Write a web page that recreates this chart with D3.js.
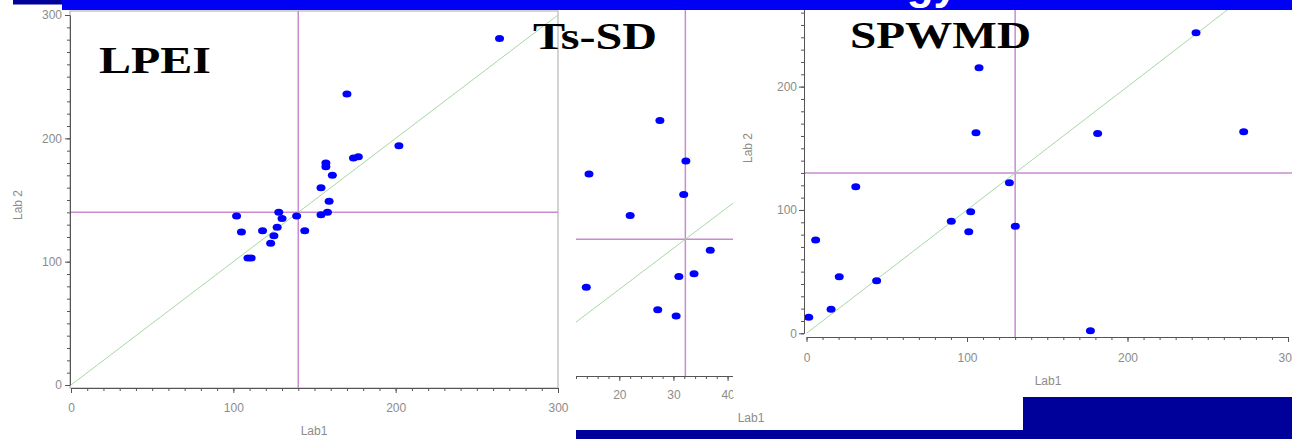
<!DOCTYPE html>
<html lang="en">
<head>
<meta charset="UTF-8">
<title>Lab1 vs Lab 2 scatterplots</title>
<script src="https://d3js.org/d3.v7.min.js"></script>
<style>
  body { margin: 0; background: #fff; }
  svg { display: block; }
  .axis .tick text { font-family: "Liberation Sans", Arial, sans-serif; font-size: 12px; fill: #8c8c8c; }
  .axis path, .axis line { stroke: #555; }
  .lab { font-family: "Liberation Sans", Arial, sans-serif; font-size: 12px; fill: #8c8c8c; }
  .ttl { font-family: "Liberation Serif", "Times New Roman", serif; font-weight: bold; font-size: 37px; fill: #000; }
</style>
</head>
<body>
<svg id="chart" width="1292" height="439"></svg>
<script>
// LPEI: Lab1 vs Lab 2
const lpeiLab1 = [264, 170, 202, 174, 177, 157, 157, 161, 154, 159, 154, 158, 139, 128, 130, 127, 125, 123, 118, 102, 105, 144, 109, 111];
const lpeiLab2 = [281, 236, 194, 184, 185, 180, 177, 170, 160, 149, 138, 140, 137, 140, 135, 128, 121, 115, 125, 137, 124, 125, 103, 103];
const lpeiMean = [140, 140];

// Ts-SD
const tsLab1 = [27.5, 32.3, 14.4, 31.9, 22.0, 36.8, 33.8, 31.0, 13.9, 27.1, 30.5];
const tsLab2 = [61.2, 51.3, 48.1, 43.1, 38.0, 29.5, 23.8, 23.1, 20.5, 15.0, 13.5];
const tsMean = [32.2, 32.2];

// SPWMD
const spLab1 = [30.7, 5.7, 20.4, 15.3, 1.4, 43.7, 90.2, 102.3, 101.1, 126.4, 130.1, 107.5, 105.6, 181.4, 272.4, 242.7, 176.9];
const spLab2 = [118.9, 75.7, 45.9, 19.5, 13.0, 42.7, 90.8, 98.6, 82.4, 122.1, 86.8, 215.4, 162.7, 161.9, 163.5, 243.6, 2.1];
const spMean = [130, 130];

const svg = d3.select("#chart");
svg.append("rect").attr("width", 1292).attr("height", 439).attr("fill", "#fff");

function drawPanel(p) {
  const g = svg.append("g");
  const x = d3.scaleLinear().domain(p.xDomain).range(p.xRange);
  const y = d3.scaleLinear().domain(p.yDomain).range(p.yRange);
  const [cx0, cy0, cx1, cy1] = p.clip;

  if (p.sheet) {
    // white sheet of the pasted plot, hides what lies under it
    g.append("rect")
      .attr("x", p.sheet[0]).attr("y", p.sheet[1])
      .attr("width", p.sheet[2] - p.sheet[0]).attr("height", p.sheet[3] - p.sheet[1])
      .attr("fill", "#fff");
  }

  const clipId = "clip-" + p.id;
  svg.append("clipPath").attr("id", clipId)
    .append("rect").attr("x", cx0).attr("y", cy0).attr("width", cx1 - cx0).attr("height", cy1 - cy0);

  if (p.frame) {
    g.append("rect")
      .attr("x", cx0).attr("y", cy0).attr("width", cx1 - cx0).attr("height", cy1 - cy0)
      .attr("fill", "none").attr("stroke", "#a8a8a8");
  }

  const inner = g.append("g").attr("clip-path", `url(#${clipId})`);

  // reference lines at the means
  inner.append("line")
    .attr("x1", cx0).attr("x2", cx1)
    .attr("y1", y(p.mean[1])).attr("y2", y(p.mean[1]))
    .attr("stroke", "#c98bd0").attr("stroke-width", 1.5);
  inner.append("line")
    .attr("x1", x(p.mean[0])).attr("x2", x(p.mean[0]))
    .attr("y1", cy0).attr("y2", cy1)
    .attr("stroke", "#c98bd0").attr("stroke-width", 1.5);

  // line of equality
  inner.append("line")
    .attr("x1", x(p.xDomain[0])).attr("y1", y(p.xDomain[0]))
    .attr("x2", x(p.xDomain[1])).attr("y2", y(p.xDomain[1]))
    .attr("stroke", "#a6d8a6").attr("stroke-width", 1);

  const pts = p.lab1.map((v, i) => ({ a: v, b: p.lab2[i] }));
  inner.selectAll("ellipse").data(pts).enter()
    .append("ellipse")
    .attr("cx", d => x(d.a))
    .attr("cy", d => y(d.b))
    .attr("rx", 4.5).attr("ry", 3.5)
    .attr("fill", "#0000ff");

  // x axis: minor then major ticks
  g.append("g").attr("class", "axis")
    .attr("transform", `translate(0,${p.xAxisY})`)
    .call(d3.axisBottom(x).tickValues(p.xMinor).tickSize(3).tickSizeOuter(0).tickFormat(""));
  g.append("g").attr("class", "axis")
    .attr("transform", `translate(0,${p.xAxisY})`)
    .call(d3.axisBottom(x).tickValues(p.xMajor).tickSize(5).tickSizeOuter(0).tickPadding(p.xPad))
    .call(a => a.select(".domain").remove());

  if (p.yAxisX !== null) {
    g.append("g").attr("class", "axis")
      .attr("transform", `translate(${p.yAxisX},0)`)
      .call(d3.axisLeft(y).tickValues(p.yMinor).tickSize(3).tickSizeOuter(0).tickFormat(""));
    g.append("g").attr("class", "axis")
      .attr("transform", `translate(${p.yAxisX},0)`)
      .call(d3.axisLeft(y).tickValues(p.yMajor).tickSize(5).tickSizeOuter(0).tickPadding(p.yPad))
      .call(a => a.select(".domain").remove());
  }

  if (p.xLabel) {
    g.append("text").attr("class", "lab")
      .attr("x", p.xLabel[0]).attr("y", p.xLabel[1])
      .attr("text-anchor", "middle").text("Lab1");
  }
  if (p.yLabel) {
    g.append("text").attr("class", "lab")
      .attr("transform", `translate(${p.yLabel[0]},${p.yLabel[1]}) rotate(-90)`)
      .attr("text-anchor", "middle").text("Lab 2");
  }
}

// Ts-SD sits behind the other two
drawPanel({
  id: "ts", lab1: tsLab1, lab2: tsLab2, mean: tsMean,
  xDomain: [12, 41], xRange: [576, 733], yDomain: [0, 90], yRange: [371.3, 2.3],
  clip: [576, 10, 733, 376], frame: false, sheet: null,
  xAxisY: 376, xMajor: [20, 30, 40], xMinor: d3.range(12, 42, 2), xPad: 9,
  yAxisX: null,
  xLabel: [751, 422], yLabel: null
});

drawPanel({
  id: "sp", lab1: spLab1, lab2: spLab2, mean: spMean,
  xDomain: [0, 300], xRange: [806.5, 1288], yDomain: [0, 300], yRange: [333.3, -36.7],
  clip: [804, 10, 1292, 337], frame: false, sheet: [733, 10, 1292, 397],
  xAxisY: 337, xMajor: [0, 100, 200, 300], xMinor: d3.range(0, 301, 10), xPad: 11,
  yAxisX: 804, yMajor: [0, 100, 200], yMinor: d3.range(0, 271, 10), yPad: 2,
  xLabel: [1048, 385], yLabel: [752, 148]
});

drawPanel({
  id: "lpei", lab1: lpeiLab1, lab2: lpeiLab2, mean: lpeiMean,
  xDomain: [0, 300], xRange: [71, 558], yDomain: [0, 300], yRange: [385, 15],
  clip: [70, 11, 558, 388], frame: true, sheet: null,
  xAxisY: 388, xMajor: [0, 100, 200, 300], xMinor: d3.range(0, 301, 10), xPad: 10,
  yAxisX: 70, yMajor: [0, 100, 200, 300], yMinor: d3.range(0, 301, 10), yPad: 3,
  xLabel: [314, 435], yLabel: [22, 205]
});

// panel titles
const titles = [
  { t: "LPEI", x: 99, y: 73, w: 112 },
  { t: "Ts-SD", x: 533, y: 49, w: 124 },
  { t: "SPWMD", x: 850, y: 48, w: 181 }
];
svg.selectAll(".ttl").data(titles).enter()
  .append("text").attr("class", "ttl")
  .attr("x", d => d.x).attr("y", d => d.y)
  .attr("textLength", d => d.w).attr("lengthAdjust", "spacingAndGlyphs")
  .text(d => d.t);

// slide decoration: title bar at the top, navy bars at the bottom
svg.append("rect").attr("x", 62).attr("y", 0).attr("width", 1230).attr("height", 10).attr("fill", "#0000f5");
svg.append("rect").attr("x", 13).attr("y", 0).attr("width", 49).attr("height", 4.5).attr("fill", "#00009a");
svg.append("text")
  .attr("x", 958).attr("y", -1).attr("text-anchor", "end")
  .attr("font-family", "Liberation Sans, Arial, sans-serif").attr("font-weight", "bold")
  .attr("font-size", 44).attr("fill", "#fff")
  .text("Methodology");
svg.append("rect").attr("x", 1023).attr("y", 397).attr("width", 269).attr("height", 42).attr("fill", "#00009a");
svg.append("rect").attr("x", 576).attr("y", 430).attr("width", 716).attr("height", 9).attr("fill", "#00009a");
</script>
</body>
</html>
